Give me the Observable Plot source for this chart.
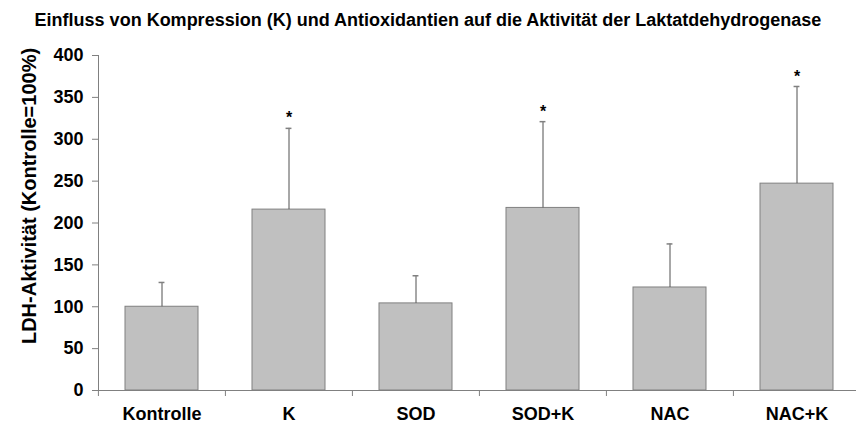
<!DOCTYPE html>
<html>
<head>
<meta charset="utf-8">
<script src="https://cdn.jsdelivr.net/npm/d3@7"></script>
<script src="https://cdn.jsdelivr.net/npm/@observablehq/plot@0.6"></script>
<style>
  html, body { margin: 0; padding: 0; background: #fff; }
  #title { height: 28px; padding-top: 4px; line-height: 32px; text-align: center; font-family: "Liberation Sans", Arial, sans-serif; font-weight: bold; font-size: 18px; color: #000; white-space: nowrap; overflow: visible; }
  svg { display: block; }
</style>
</head>
<body>
<div id="title">Einfluss von Kompression (K) und Antioxidantien auf die Aktivität der Laktatdehydrogenase</div>
<div id="chart"></div>
<script>
const categories = ["Kontrolle", "K", "SOD", "SOD+K", "NAC", "NAC+K"];
const means = [100, 216, 104, 218, 123, 247];
const errors = [29, 97, 33, 103, 52, 116];
const significant = [false, true, false, true, false, true];
const yTicks = [0, 50, 100, 150, 200, 250, 300, 350, 400];
const yLabel = "LDH-Aktivität (Kontrolle=100%)";

const data = categories.map((c, i) => ({
  group: c, value: means[i], upper: means[i] + errors[i], sig: significant[i]
}));

const W = 856, H = 395;
const x0 = 98, x1 = 861;
const step = (x1 - x0) / categories.length;
const padInner = 0.425;
const bandW = step * (1 - padInner);
const capW = 6;
const font = "Liberation Sans, Arial, sans-serif";

const chart = Plot.plot({
  width: W,
  height: H,
  marginTop: 23,
  marginBottom: 37,
  marginLeft: x0,
  marginRight: 0,
  style: { fontFamily: font, fontSize: "18px", fontWeight: "bold", color: "#000", background: "#fff" },
  x: { domain: categories, range: [x0, x1], paddingInner: padInner, paddingOuter: padInner / 2 },
  y: { domain: [0, 400] },
  marks: [
    Plot.barY(data, { x: "group", y: "value", fill: "#c0c0c0", stroke: "#808080", strokeWidth: 1 }),
    Plot.ruleX(data, { x: "group", y1: "value", y2: "upper", stroke: "#505050", strokeWidth: 1 }),
    Plot.tickY(data, { x: "group", y: "upper", stroke: "#808080", strokeWidth: 1.5, insetLeft: (bandW - capW) / 2, insetRight: (bandW - capW) / 2 }),
    Plot.text(data.filter(d => d.sig), { x: "group", y: "upper", text: () => "*", dy: -10, fontSize: 16, fontWeight: "bold", fill: "#000" }),
    Plot.ruleY([0], { stroke: "#808080", strokeWidth: 1 }),
    Plot.frame({ anchor: "left", stroke: "#808080", strokeWidth: 1 }),
    Plot.ruleX(categories, { x: d => d, dx: -step / 2, y1: 0, y2: 0, insetBottom: -6, stroke: "#808080", strokeWidth: 1 }),
    Plot.axisY({ ticks: yTicks, tickSize: 6, tickPadding: 9, stroke: "#808080", fontSize: 18, fontWeight: "bold", label: null }),
    Plot.axisX({ tickSize: 0, tickPadding: 17, fontSize: 18, fontWeight: "bold", label: null }),
    Plot.text([yLabel], { frameAnchor: "left", text: d => d, rotate: -90, dx: -69, dy: -27, fontSize: 20, fontWeight: "bold", fill: "#000", textAnchor: "middle", lineAnchor: "middle" })
  ]
});
document.getElementById("chart").appendChild(chart);
</script>
</body>
</html>
